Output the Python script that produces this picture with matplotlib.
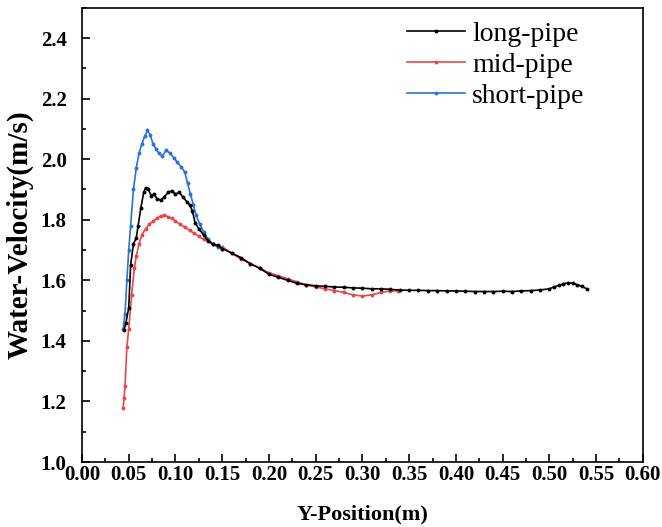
import matplotlib
matplotlib.use('Agg')
from matplotlib import pyplot as plt
from matplotlib.ticker import MultipleLocator, FormatStrFormatter

plt.rcParams['font.family'] = ['Liberation Serif', 'DejaVu Serif']

# long-pipe
x_long = [0.045, 0.047, 0.050, 0.052, 0.055, 0.058, 0.060, 0.063, 0.066, 0.068,
          0.071, 0.074, 0.077, 0.080, 0.084, 0.088, 0.092, 0.096, 0.100, 0.104,
          0.108, 0.112, 0.115, 0.118, 0.121, 0.125, 0.130, 0.135, 0.140, 0.145,
          0.150, 0.160, 0.170, 0.180, 0.190, 0.200, 0.210, 0.220, 0.230, 0.240,
          0.250, 0.260, 0.270, 0.280, 0.290, 0.300, 0.310, 0.320, 0.330, 0.340,
          0.350, 0.360, 0.370, 0.380, 0.390, 0.400, 0.410, 0.420, 0.430, 0.440,
          0.450, 0.460, 0.470, 0.480, 0.490, 0.500, 0.505, 0.510, 0.515, 0.520,
          0.525, 0.530, 0.535, 0.540]
v_long = [1.436, 1.46, 1.51, 1.65, 1.72, 1.74, 1.78, 1.84, 1.89, 1.905,
          1.90, 1.88, 1.885, 1.87, 1.865, 1.875, 1.89, 1.895, 1.885, 1.89,
          1.875, 1.86, 1.85, 1.83, 1.79, 1.77, 1.75, 1.73, 1.72, 1.715,
          1.705, 1.69, 1.675, 1.655, 1.64, 1.62, 1.61, 1.60, 1.59, 1.585,
          1.582, 1.580, 1.578, 1.577, 1.575, 1.574, 1.572, 1.572, 1.570, 1.568,
          1.567, 1.567, 1.566, 1.566, 1.565, 1.565, 1.564, 1.563, 1.563, 1.563,
          1.564, 1.563, 1.565, 1.566, 1.568, 1.572, 1.578, 1.583, 1.588, 1.592,
          1.590, 1.585, 1.580, 1.572]

# mid-pipe
x_mid = [0.044, 0.045, 0.046, 0.048, 0.050, 0.053, 0.056, 0.058, 0.061, 0.064,
         0.068, 0.072, 0.076, 0.080, 0.084, 0.088, 0.092, 0.096, 0.100, 0.105,
         0.110, 0.115, 0.120, 0.125, 0.130, 0.140, 0.150, 0.160, 0.170, 0.180,
         0.190, 0.200, 0.210, 0.220, 0.230, 0.240, 0.250, 0.260, 0.270, 0.280,
         0.290, 0.300, 0.310, 0.320, 0.330, 0.338]
v_mid = [1.18, 1.21, 1.25, 1.38, 1.44, 1.55, 1.64, 1.68, 1.72, 1.75,
         1.77, 1.785, 1.795, 1.805, 1.812, 1.815, 1.81, 1.805, 1.795, 1.785,
         1.775, 1.765, 1.755, 1.745, 1.735, 1.72, 1.71, 1.69, 1.67, 1.655,
         1.64, 1.625, 1.615, 1.605, 1.595, 1.585, 1.578, 1.572, 1.566, 1.56,
         1.552, 1.548, 1.552, 1.56, 1.565, 1.565]

# short-pipe
x_short = [0.044, 0.046, 0.048, 0.050, 0.052, 0.055, 0.058, 0.061, 0.064, 0.067,
           0.070, 0.073, 0.076, 0.079, 0.082, 0.086, 0.090, 0.094, 0.098, 0.102,
           0.106, 0.110, 0.113, 0.116, 0.119, 0.122, 0.126, 0.130, 0.135, 0.140,
           0.145, 0.150]
v_short = [1.44, 1.49, 1.60, 1.70, 1.78, 1.90, 1.97, 2.02, 2.05, 2.075,
           2.095, 2.08, 2.05, 2.035, 2.02, 2.01, 2.03, 2.02, 2.005, 1.99,
           1.975, 1.957, 1.92, 1.885, 1.85, 1.815, 1.785, 1.76, 1.735, 1.72,
           1.71, 1.705]

fig = plt.figure(figsize=(6.62, 5.27), dpi=100)
ax = fig.add_axes([0.1239, 0.1233, 0.8471, 0.862])

ax.plot(x_short, v_short, color='#2a72d5', lw=1.2, marker='o', ms=1.8, label='short-pipe', zorder=2)
ax.plot(x_mid, v_mid, color='#e5474b', lw=1.2, marker='o', ms=1.8, label='mid-pipe', zorder=3)
ax.plot(x_long, v_long, color='black', lw=1.2, marker='o', ms=1.8, label='long-pipe', zorder=4)

ax.set_xlim(0, 0.6)
ax.set_ylim(1.0, 2.5)
ax.xaxis.set_major_locator(MultipleLocator(0.05))
ax.xaxis.set_minor_locator(MultipleLocator(0.025))
ax.yaxis.set_major_locator(MultipleLocator(0.2))
ax.yaxis.set_minor_locator(MultipleLocator(0.1))
ax.xaxis.set_major_formatter(FormatStrFormatter('%.2f'))
ax.yaxis.set_major_formatter(FormatStrFormatter('%.1f'))
ax.tick_params(which='major', direction='in', length=6, width=1.2, labelsize=15)
ax.tick_params(which='minor', direction='in', length=3, width=1.2)
ax.tick_params(axis='y', pad=11)
ax.tick_params(axis='x', pad=2)
for lab in ax.get_xticklabels() + ax.get_yticklabels():
    lab.set_fontweight('bold')
for sp in ax.spines.values():
    sp.set_linewidth(1.2)

ax.set_xlabel('Y-Position(m)', fontsize=16, fontweight='bold', labelpad=14)
ax.set_ylabel('Water-Velocity(m/s)', fontsize=21, fontweight='bold', labelpad=5)

h, l = ax.get_legend_handles_labels()
order = [2, 1, 0]
ax.legend([h[i] for i in order], [l[i] for i in order], loc='upper left',
          frameon=False, fontsize=20, handlelength=2.1, handletextpad=0.25,
          labelspacing=0.2, borderpad=0, borderaxespad=0,
          bbox_to_anchor=(0.579, 0.97))

fig.savefig('out.png', dpi=100)
